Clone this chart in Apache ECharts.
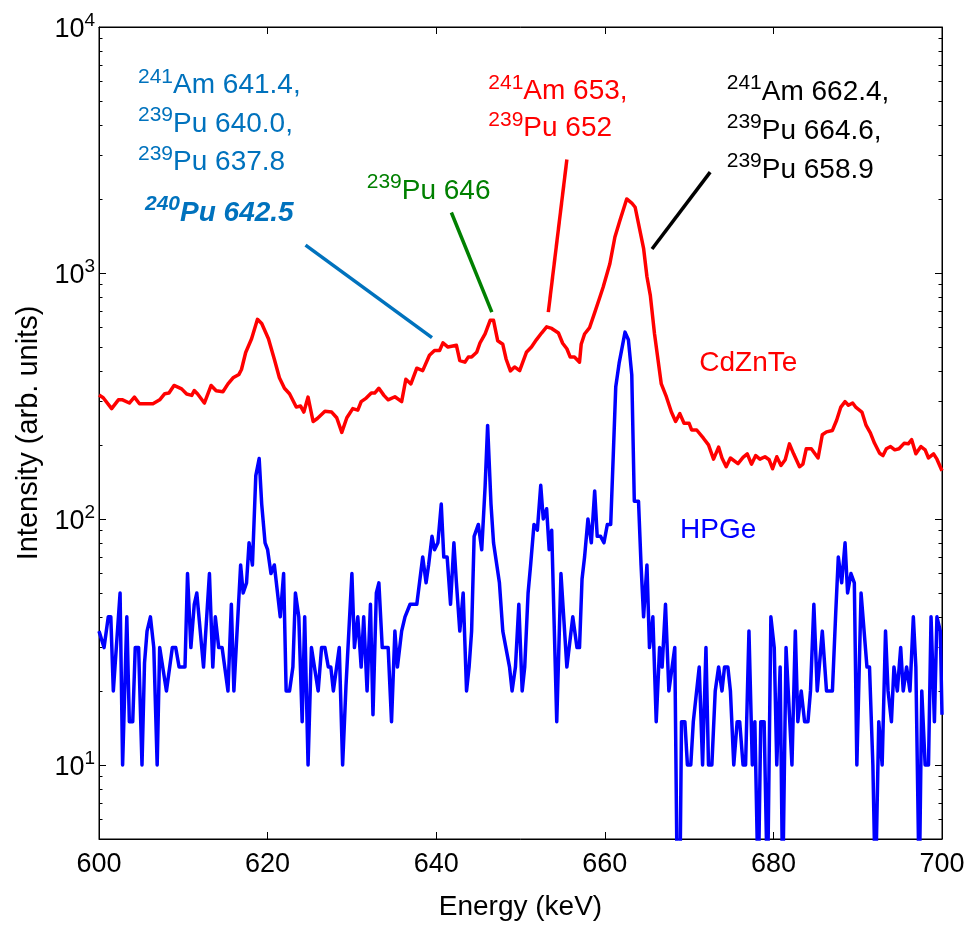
<!DOCTYPE html>
<html>
<head>
<meta charset="utf-8">
<script src="https://cdn.jsdelivr.net/npm/echarts@6/dist/echarts.min.js"></script>
<style>
html,body{margin:0;padding:0;background:#fff;}
#chart{width:971px;height:926px;}
</style>
</head>
<body>
<div id="chart"></div>
<script>
// ---------------- DATA ----------------
const hpgeEnergy = [
600.0,600.6,601.1,601.4,601.7,602.5,602.8,603.3,603.6,604.0,604.3,604.7,605.1,605.4,605.7,606.1,606.5,606.9,607.2,608.0,
608.7,609.1,609.5,610.2,610.5,610.9,611.3,611.6,612.4,613.1,613.5,613.8,614.2,614.6,615.3,615.7,616.0,616.8,617.1,617.5,
617.8,618.2,618.6,619.0,619.3,619.7,620.0,620.4,620.8,621.5,621.9,622.2,622.6,623.0,623.3,623.7,624.1,624.4,624.8,625.2,
626.0,626.4,626.8,627.2,627.5,627.8,628.5,628.9,629.3,630.0,630.3,630.7,631.1,631.4,631.8,632.2,632.5,632.9,633.2,633.6,
634.3,634.7,635.1,635.4,635.9,636.3,636.5,636.9,637.7,638.4,638.8,639.1,639.5,639.8,640.2,640.6,640.9,641.3,641.7,642.1,
642.4,642.8,643.2,643.6,643.9,644.2,644.5,645.0,645.4,645.8,646.1,646.5,646.8,647.5,647.9,648.7,649.0,649.4,649.8,650.2,
650.5,650.9,
651.2,651.6,652.0,652.4,652.7,653.1,653.4,653.7,654.3,654.8,655.5,656.2,656.7,657.0,657.3,657.6,658.0,658.4,658.8,659.1,
659.5,659.9,660.3,660.7,661.0,661.3,661.7,662.4,662.8,663.2,663.5,664.0,664.3,664.6,665.0,665.3,665.7,666.1,666.5,666.8,
667.2,667.6,668.3,668.6,668.9,669.1,669.5,669.8,670.2,670.5,671.2,671.6,672.0,672.3,672.7,673.1,673.5,673.9,674.2,674.6,
674.9,675.3,675.7,676.0,676.4,
676.7,677.1,677.5,677.8,678.2,678.5,678.9,679.3,679.7,680.1,680.4,680.8,681.1,681.5,681.9,682.2,682.6,682.9,683.3,683.7,
684.1,684.4,684.8,685.2,685.8,686.3,687.0,687.4,687.7,688.1,688.5,688.8,689.2,689.6,689.9,690.4,691.1,691.4,691.8,692.1,
692.5,692.9,693.3,693.6,694.0,694.3,694.7,695.1,695.4,695.8,696.2,696.6,696.9,697.3,697.6,698.0,698.4,698.7,699.1,699.4,
699.8,700.0
];
const hpgeCounts = [
35,30,40,40,20,50,10,40,15,15,30,30,10,26,35,40,30,10,30,20,
30,30,25,25,60,30,45,50,25,60,25,40,30,30,20,45,20,65,50,55,
80,65,150,176,115,80,75,60,65,40,60,20,20,25,50,40,15,40,10,30,
20,30,30,25,25,20,30,10,21,60,30,40,25,40,20,45,16,50,55,30,
30,15,35,25,35,40,40,45,45,70,55,65,85,75,80,115,70,70,45,80,
55,35,50,20,25,35,85,95,75,135,240,115,80,55,35,25,20,25,45,20,
25,50,
65,95,90,137,100,110,75,90,15,60,25,40,30,30,57,70,100,80,130,85,
85,80,95,95,180,345,430,575,535,385,118,118,65,40,65,30,40,15,30,25,
45,20,30,3,3,15,15,10,10,15,25,10,30,10,10,20,25,20,25,25,
20,10,15,15,10,
10,35,10,15,3,15,15,3,40,30,10,25,3,30,16,10,35,15,20,15,
15,20,45,20,35,20,20,42,70,55,80,50,60,55,10,50,25,25,10,3,
15,10,35,20,15,25,20,30,20,25,20,40,25,3,20,10,10,40,15,40,
35,16
];
const czteEnergy = [
600.0,600.5,601.5,602.3,602.8,603.6,604.2,604.8,606.4,607.2,607.8,608.3,608.9,609.8,610.4,611.0,611.3,611.7,612.5,613.3,
613.9,614.7,615.3,615.9,616.6,616.9,617.4,618.1,618.8,619.3,620.1,620.8,621.4,622.0,622.6,623.4,623.9,624.3,624.8,625.4,
625.9,626.8,627.6,628.2,628.8,629.4,630.1,630.7,631.1,631.7,632.3,632.7,633.2,633.8,634.3,
635.1,635.9,636.4,637.0,637.7,638.4,639.2,639.8,640.4,640.8,641.4,642.4,642.8,643.4,643.8,644.2,644.8,645.2,645.8,646.4,
646.8,647.3,647.9,648.3,648.8,649.3,649.9,650.7,651.3,651.9,652.5,653.1,653.7,654.5,655.0,655.5,655.9,656.4,657.0,657.2,
657.6,658.2,658.8,659.4,659.8,660.6,661.2,661.8,662.6,663.2,663.6,664.6,665.0,665.4,
665.9,666.7,667.3,667.9,668.4,668.9,669.4,670.0,670.3,670.9,671.7,672.3,672.9,673.5,673.9,674.4,674.9,675.8,676.4,676.9,
677.4,677.9,678.4,679.0,679.5,679.9,680.4,680.9,681.4,681.9,682.4,683.1,683.5,683.9,684.5,685.3,685.8,686.3,687.0,687.5,
688.0,688.5,688.9,689.4,689.8,690.5,691.0,691.5,692.0,692.6,693.0,693.4,693.9,694.4,694.9,695.5,696.0,696.4,696.9,697.5,
698.0,698.4,699.0,699.4,700.0
];
const czteCounts = [
319,311,281,305,305,296,313,294,294,305,323,325,349,338,322,318,333,322,296,349,
332,329,354,375,387,405,475,540,648,623,540,446,375,340,323,285,288,272,313,249,
256,274,272,258,225,258,281,277,300,310,325,325,340,318,305,
314,300,370,354,410,401,463,484,484,520,500,508,440,434,455,455,476,520,565,642,
642,530,513,446,400,415,401,476,500,536,570,604,595,570,518,492,455,455,434,513,
565,600,690,795,875,1090,1400,1640,2000,1925,1850,1260,965,811,
565,354,314,272,249,268,245,245,230,230,213,200,175,196,177,163,177,168,178,184,
167,181,175,179,174,160,179,165,174,202,184,163,167,193,193,177,220,226,229,252,
285,300,290,296,284,272,240,224,203,185,181,193,197,191,193,203,202,210,184,197,
191,177,184,175,157
];
const xTicks = [600, 620, 640, 660, 680, 700];
const yMajorTicks = [10, 100, 1000, 10000];
const yMinorTicks = [6,7,8,9,20,30,40,50,60,70,80,90,200,300,400,500,600,700,800,900,2000,3000,4000,5000,6000,7000,8000,9000];

// peak annotations: lines of [mass number, text]
const annBlue = [['241','Am 641.4,'],['239','Pu 640.0,'],['239','Pu 637.8']];
const annBlueBold = [['240','Pu 642.5']];
const annGreen = [['239','Pu 646']];
const annRed = [['241','Am 653,'],['239','Pu 652']];
const annBlack = [['241','Am 662.4,'],['239','Pu 664.6,'],['239','Pu 658.9']];
// leader lines in data space [[E1, I1], [E2, I2]]
const leaderBlue = [[624.5, 1298], [639.5, 546]];
const leaderGreen = [[641.8, 1762], [646.6, 693]];
const leaderRed = [[655.5, 2894], [653.3, 693]];
const leaderBlack = [[672.5, 2570], [665.6, 1251]];
const seriesNames = ['HPGe', 'CdZnTe'];
const xName = 'Energy (keV)';
const yName = 'Intensity (arb. units)';

// ---------------- CHART ----------------
const FONT = 'Liberation Sans, Arial, Helvetica, sans-serif';
const zip = (a, b) => a.map((v, i) => [v, b[i]]);

function richLines(lines) {
  return lines.map(l => `{s|${l[0]}}{m|${l[1]}}`).join('\n');
}
function richStyle(color, bold, lh) {
  const fw = bold ? 'bold' : 'normal';
  const fs = bold ? 'italic' : 'normal';
  return {
    s: {fontSize: 21, lineHeight: 16, verticalAlign: 'top', fontFamily: FONT, fill: color, fontWeight: fw, fontStyle: fs},
    m: {fontSize: 28, lineHeight: lh, fontFamily: FONT, fill: color, fontWeight: fw, fontStyle: fs}
  };
}
function annText(lines, x, y, color, bold, lh) {
  return {
    type: 'text', x: x, y: y, silent: true, z: 100,
    style: {text: richLines(lines), rich: richStyle(color, bold, lh || 38.5), align: 'left', verticalAlign: 'top', fill: color}
  };
}
function plainText(str, x, y, color) {
  return {
    type: 'text', x: x, y: y, silent: true, z: 100,
    style: {text: str, fontSize: 28, fontFamily: FONT, fill: color, align: 'left', verticalAlign: 'top', lineHeight: 38.5}
  };
}
function leader(pts, color) {
  return [{coord: pts[0], lineStyle: {color: color, width: 3.5, type: 'solid'}}, {coord: pts[1]}];
}

const chart = echarts.init(document.getElementById('chart'), null, {renderer: 'canvas'});

const yAxisBase = {
  type: 'log', logBase: 10, min: 5, max: 10000,
  splitLine: {show: false}, minorTick: {show: false}, minorSplitLine: {show: false}
};
const supLabel = {
  show: true, customValues: yMajorTicks, margin: 4, color: '#000',
  formatter: v => `{b|10}{s|${Math.round(Math.log10(v))}}`,
  rich: {
    b: {fontSize: 27, lineHeight: 32, fontFamily: FONT, color: '#000', verticalAlign: 'bottom'},
    s: {fontSize: 19, lineHeight: 19, fontFamily: FONT, color: '#000', verticalAlign: 'top'}
  }
};

const option = {
  animation: false,
  backgroundColor: '#fff',
  grid: {left: 99, right: 29, top: 27, bottom: 82, show: true, borderColor: '#000', borderWidth: 1, backgroundColor: 'transparent'},
  xAxis: [
    {
      type: 'value', min: 600, max: 700, interval: 20, position: 'bottom',
      axisLine: {show: true, onZero: false, lineStyle: {color: '#000', width: 1}},
      axisTick: {show: true, inside: true, length: 7, customValues: xTicks, lineStyle: {color: '#000', width: 1}},
      axisLabel: {show: true, fontSize: 27, fontFamily: FONT, color: '#000', margin: 12, customValues: xTicks},
      splitLine: {show: false},
      name: xName, nameLocation: 'middle', nameGap: 54,
      nameTextStyle: {fontSize: 28, fontFamily: FONT, color: '#000'}
    },
    {
      type: 'value', min: 600, max: 700, interval: 20, position: 'top',
      axisLine: {show: true, onZero: false, lineStyle: {color: '#000', width: 1}},
      axisTick: {show: true, inside: true, length: 7, customValues: xTicks, lineStyle: {color: '#000', width: 1}},
      axisLabel: {show: false}, splitLine: {show: false}
    }
  ],
  yAxis: [
    Object.assign({}, yAxisBase, {
      position: 'left',
      axisLine: {show: true, onZero: false, lineStyle: {color: '#000', width: 1}},
      axisTick: {show: true, inside: true, length: 7, customValues: yMajorTicks, lineStyle: {color: '#000', width: 1}},
      axisLabel: supLabel,
      name: yName, nameLocation: 'middle', nameGap: 55,
      nameTextStyle: {fontSize: 29, fontFamily: FONT, color: '#000'}
    }),
    Object.assign({}, yAxisBase, {
      position: 'left',
      axisLine: {show: false},
      axisTick: {show: true, inside: true, length: 3.5, customValues: yMinorTicks, lineStyle: {color: '#000', width: 1}},
      axisLabel: {show: false}
    }),
    Object.assign({}, yAxisBase, {
      position: 'right',
      axisLine: {show: true, onZero: false, lineStyle: {color: '#000', width: 1}},
      axisTick: {show: true, inside: true, length: 7, customValues: yMajorTicks, lineStyle: {color: '#000', width: 1}},
      axisLabel: {show: false}
    }),
    Object.assign({}, yAxisBase, {
      position: 'right',
      axisLine: {show: false},
      axisTick: {show: true, inside: true, length: 3.5, customValues: yMinorTicks, lineStyle: {color: '#000', width: 1}},
      axisLabel: {show: false}
    })
  ],
  series: [
    {
      name: seriesNames[0], type: 'line', xAxisIndex: 0, yAxisIndex: 0,
      data: zip(hpgeEnergy, hpgeCounts), showSymbol: false, symbol: 'none', clip: true,
      lineStyle: {color: '#0000FF', width: 3.5, join: 'round'}, itemStyle: {color: '#0000FF'}, silent: true
    },
    {
      name: seriesNames[1], type: 'line', xAxisIndex: 0, yAxisIndex: 0,
      data: zip(czteEnergy, czteCounts), showSymbol: false, symbol: 'none', clip: true,
      lineStyle: {color: '#FF0000', width: 3.5, join: 'round'}, itemStyle: {color: '#FF0000'}, silent: true,
      markLine: {
        silent: true, symbol: ['none', 'none'], animation: false,
        label: {show: false},
        emphasis: {disabled: true},
        data: [
          leader(leaderBlue, '#0072BD'),
          leader(leaderGreen, '#008000'),
          leader(leaderRed, '#FF0000'),
          leader(leaderBlack, '#000000')
        ]
      }
    }
  ],
  graphic: [
    annText(annBlue, 138, 66.3, '#0072BD', false),
    annText(annBlueBold, 145, 194, '#0072BD', true),
    annText(annGreen, 366.7, 171.7, '#008000', false),
    annText(annRed, 488.3, 72.3, '#FF0000', false, 37.5),
    annText(annBlack, 726.7, 73, '#000000', false, 38.8),
    plainText(seriesNames[1], 699.3, 344, '#FF0000'),
    plainText(seriesNames[0], 680, 510.7, '#0000FF')
  ]
};
chart.setOption(option);
</script>
</body>
</html>
